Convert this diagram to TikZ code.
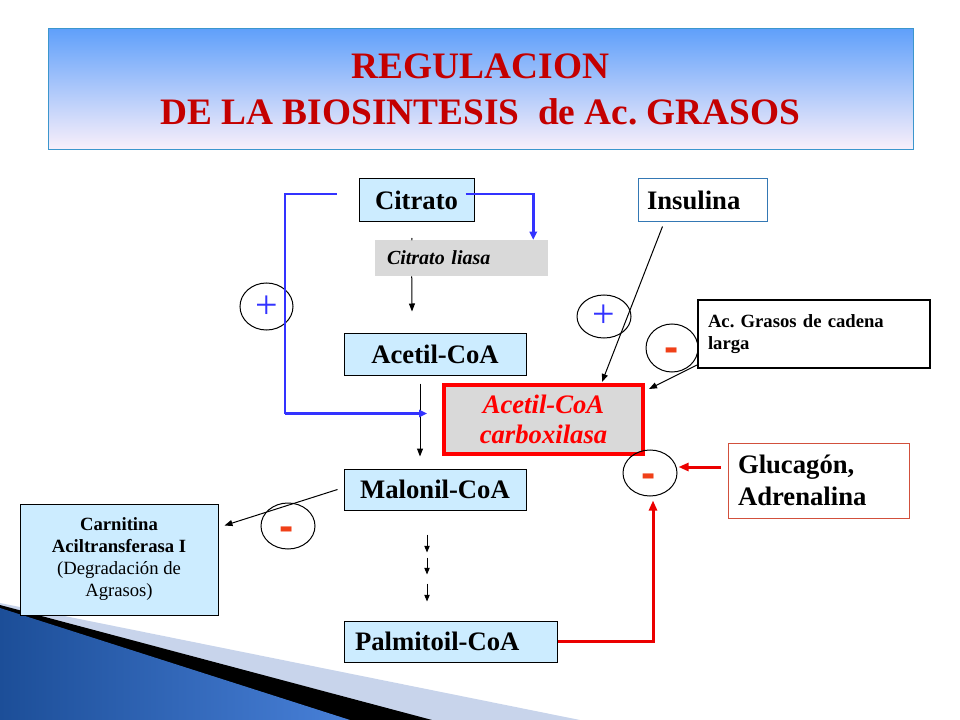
\documentclass[tikz,border=0pt]{standalone}
\usepackage{fontspec}
\setmainfont{Liberation Serif}
\newfontfamily\signfont{Liberation Sans}
\usetikzlibrary{shapes.geometric,arrows.meta,calc}
\frenchspacing
\definecolor{boxblue}{RGB}{204,236,255}
\definecolor{grayfill}{RGB}{217,217,217}
\definecolor{titlered}{RGB}{196,0,0}
\definecolor{lineblue}{RGB}{51,51,255}
\definecolor{minusred}{RGB}{240,64,24}
\definecolor{insborder}{RGB}{52,120,180}
\definecolor{gluborder}{RGB}{210,80,60}
\definecolor{titleborder}{RGB}{60,150,205}
\definecolor{titletop}{RGB}{96,160,250}
\definecolor{titlebot}{RGB}{250,240,250}
\definecolor{swlight}{RGB}{200,212,235}
\definecolor{swdark}{RGB}{28,78,152}
\definecolor{swmid}{RGB}{72,128,216}
\definecolor{redline}{RGB}{235,0,0}
\begin{document}
\begin{tikzpicture}[x=0.75pt,y=-0.75pt,
  every node/.style={inner sep=0pt},
  titlebox/.style={draw=titleborder,line width=0.75pt,top color=titletop,bottom color=titlebot,
    minimum width=648.75pt,minimum height=90.75pt,align=center,text=titlered,
    font=\bfseries\fontsize{28}{34}\selectfont},
  bluebox/.style={draw=black,line width=0.75pt,fill=boxblue,font=\bfseries\fontsize{20}{24}\selectfont},
  graybox/.style={fill=grayfill,font=\bfseries\itshape\fontsize{15}{18}\selectfont,align=left,inner xsep=9pt},
  carbbox/.style={draw=red,line width=3pt,fill=grayfill,text=red,align=center,
    font=\bfseries\itshape\fontsize{20}{22.5}\selectfont},
  carnbox/.style={draw=black,line width=0.75pt,fill=boxblue,align=center,font=\fontsize{14}{16.5}\selectfont},
  insbox/.style={draw=insborder,line width=0.75pt,fill=white,align=left,inner xsep=6.75pt,
    font=\bfseries\fontsize{20}{24}\selectfont},
  acgbox/.style={draw=black,line width=1.5pt,fill=white,align=left,inner xsep=7.5pt,
    font=\bfseries\fontsize{14}{16.5}\selectfont},
  glubox/.style={draw=gluborder,line width=0.75pt,fill=white,align=left,inner xsep=7.5pt,
    font=\bfseries\fontsize{20}{23.7}\selectfont},
  signring/.style={draw=black,line width=0.75pt,ellipse},
  plussign/.style={text=lineblue,font=\fontsize{30}{30}\selectfont,text height=15.2pt,text depth=0pt},
  minussign/.style={text=minusred,font=\signfont\bfseries\fontsize{32}{32}\selectfont,text height=16.3pt,text depth=0pt},
  blk/.style={draw=black,line width=0.75pt,-{Triangle[length=6pt,width=4.5pt]}},
  blksmall/.style={draw=black,line width=0.75pt,-{Triangle[length=5pt,width=4pt]}},
  bluethin/.style={draw=lineblue,line width=0.9pt},
  bluethick/.style={draw=lineblue,line width=2.25pt,-{Triangle[length=6pt,width=5.5pt]}},
  redthick/.style={draw=redline,line width=2.25pt,-{Triangle[length=7.5pt,width=6pt]}}
]
\useasboundingbox (0,0) rectangle (960,720);
% bottom-left swoosh
\fill[swlight] (0,603) -- (580,720) -- (0,720) -- cycle;
\fill[black] (0,605) -- (432,720) -- (0,720) -- cycle;
\shade[left color=swdark,right color=swmid] (0,608) -- (350,720) -- (0,720) -- cycle;

% title
\node[titlebox] (title) at (480.5,89.5) {REGULACION\\DE LA BIOSINTESIS\ \ de Ac. GRASOS};

% boxes
\node[bluebox,minimum width=86.25pt,minimum height=32.25pt] (citrato) at (416.5,200.5) {Citrato};
\node[graybox,text width=111.75pt,minimum height=27pt] (liasa) at (461.5,258) {Citrato liasa};
\node[bluebox,minimum width=136.5pt,minimum height=31.5pt] (acetil) at (435,354) {Acetil-CoA};
\node[carbbox,minimum width=149.25pt,minimum height=51.75pt] (carb) at (543.5,419.5) {Acetil-CoA\\carboxilasa};
\node[bluebox,minimum width=136.5pt,minimum height=30.75pt] (malonil) at (435,489.5) {Malonil-CoA};
\node[bluebox,align=left,inner xsep=8.25pt,text width=143.25pt,minimum height=30.75pt] (palm) at (450.5,641.5) {Palmitoil-CoA};
\node[carnbox,minimum width=148.5pt,minimum height=83.25pt] (carn) at (119,559.5)
  {\textbf{Carnitina}\\\textbf{Aciltransferasa I}\\(Degradación de\\Agrasos)};
\node[insbox,text width=83.25pt,minimum height=32.25pt] (ins) at (702.5,200.5) {Insulina};
\node[acgbox,text width=159pt,minimum height=51pt] (acg) at (814,334) {Ac. Grasos de cadena\\larga};
\node[glubox,text width=120.75pt,minimum height=56.25pt] (glu) at (818.5,480.5) {Glucagón,\\Adrenalina};

% rings
\node[signring,minimum width=39.75pt,minimum height=35.25pt] (plusL) at (266.5,306.5) {};
\node[signring,minimum width=40.5pt,minimum height=32.25pt] (plusI) at (604,316.5) {};
\node[signring,minimum width=39pt,minimum height=36pt] (minusA) at (672,348) {};
\node[signring,minimum width=40.5pt,minimum height=34.5pt] (minusG) at (650,473) {};
\node[signring,minimum width=40.5pt,minimum height=34.5pt] (minusC) at (288,526) {};
\node[plussign] (plusLt) at ($(plusL.center)+(0,1.5)$) {+};
\node[plussign] (plusIt) at ($(plusI.center)+(0,0.5)$) {+};
\node[minussign] (minusAt) at ($(minusA.center)+(0,3)$) {-};
\node[minussign] (minusGt) at ($(minusG.center)+(-1,4)$) {-};
\node[minussign] (minusCt) at ($(minusC.center)+(-1,4)$) {-};

% black connectors
\coordinate (tickA) at ($(citrato.south)+(-4.5,15.5)$);
\coordinate (tickB) at ($(liasa.north west)+(37,0.5)$);
\draw[line width=0.75pt] (tickA) -- (tickB);
\draw[blk] ($(liasa.south west)+(37,0)$) -- ($(acetil.north)+(-23,-21)$);
\draw[blk] ($(acetil.south)+(-15,8)$) -- ($(malonil.north)+(-15,-12)$);
\draw[blksmall] ($(malonil.south)+(-8,24)$) -- ($(malonil.south)+(-8,42)$);
\draw[blksmall] ($(malonil.south)+(-8,47)$) -- ($(malonil.south)+(-8,64)$);
\draw[blksmall] ($(malonil.south)+(-8,73)$) -- ($(malonil.south)+(-8,91)$);
\draw[blk] ($(ins.south west)+(25,4)$) -- ($(carb.north)+(58.5,-1)$);
\draw[blk] ($(acg.south west)+(0,-4)$) -- ($(carb.north east)+(4,6)$);
\draw[blk] ($(malonil.west)+(-6,0)$) -- ($(carn.north east)+(6,22)$);

% blue connectors
\coordinate (bstart) at ($(citrato.west)+(-22,-6.5)$);
\coordinate (btip) at ($(acetil.south)+(-8,38)$);
\coordinate (bcorner) at ($(btip)+(-142,0)$);
\draw[bluethin] (bstart) -| (bcorner);
\draw[bluethick] (bcorner) -- (btip);
\coordinate (rstart) at ($(citrato.east)+(-9,-6.5)$);
\coordinate (rtip) at ($(liasa.north east)+(-15,0)$);
\coordinate (rcorner) at (rstart -| rtip);
\draw[bluethin] (rstart) -- (rcorner);
\draw[bluethick] ($(rcorner)+(0,-1)$) -- (rtip);

% red connectors
\draw[redthick] (palm.east) -| ($(minusG.south)+(3,4)$);
\draw[redthick] ($(glu.west)+(-7,-13.5)$) -- ($(minusG.east)+(1,-6)$);
\end{tikzpicture}
\end{document}
